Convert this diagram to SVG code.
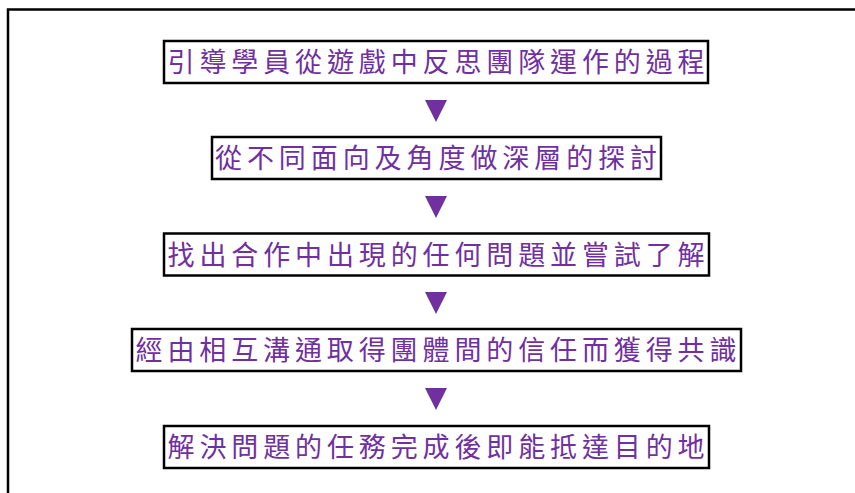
<svg xmlns="http://www.w3.org/2000/svg" width="855" height="493" viewBox="0 0 855 493">
<style>
.box{fill:#fff;stroke:#000;stroke-width:2.5}
.lbl{font-family:"Noto Sans CJK TC","Noto Sans CJK SC",sans-serif;font-size:27px;fill:#7030A0;text-anchor:middle}
.tri{fill:#7030A0}
</style>
<rect width="855" height="493" fill="#fff"/>
<path d="M8,493 V9.5 H855" fill="none" stroke="#000" stroke-width="2.5"/>
<g id="n1"><rect class="box" x="164" y="41" width="544" height="42"/><text class="lbl" x="436" y="72" textLength="537" lengthAdjust="spacing">引導學員從遊戲中反思團隊運作的過程</text></g>
<g id="n2"><rect class="box" x="212" y="137" width="449" height="42"/><text class="lbl" x="436" y="168" textLength="442" lengthAdjust="spacing">從不同面向及角度做深層的探討</text></g>
<g id="n3"><rect class="box" x="164" y="233.5" width="545" height="42"/><text class="lbl" x="436" y="264.5" textLength="537" lengthAdjust="spacing">找出合作中出現的任何問題並嘗試了解</text></g>
<g id="n4"><rect class="box" x="132" y="329" width="609" height="42"/><text class="lbl" x="436" y="360" textLength="601" lengthAdjust="spacing">經由相互溝通取得團體間的信任而獲得共識</text></g>
<g id="n5"><rect class="box" x="164" y="426" width="545" height="42"/><text class="lbl" x="436" y="457" textLength="537" lengthAdjust="spacing">解決問題的任務完成後即能抵達目的地</text></g>
<g id="connectors">
<polygon class="tri" points="425,100 447,100 436,122"/>
<polygon class="tri" points="425,196 447,196 436,218"/>
<polygon class="tri" points="425,292 447,292 436,314"/>
<polygon class="tri" points="425,388 447,388 436,410"/>
</g>
</svg>
